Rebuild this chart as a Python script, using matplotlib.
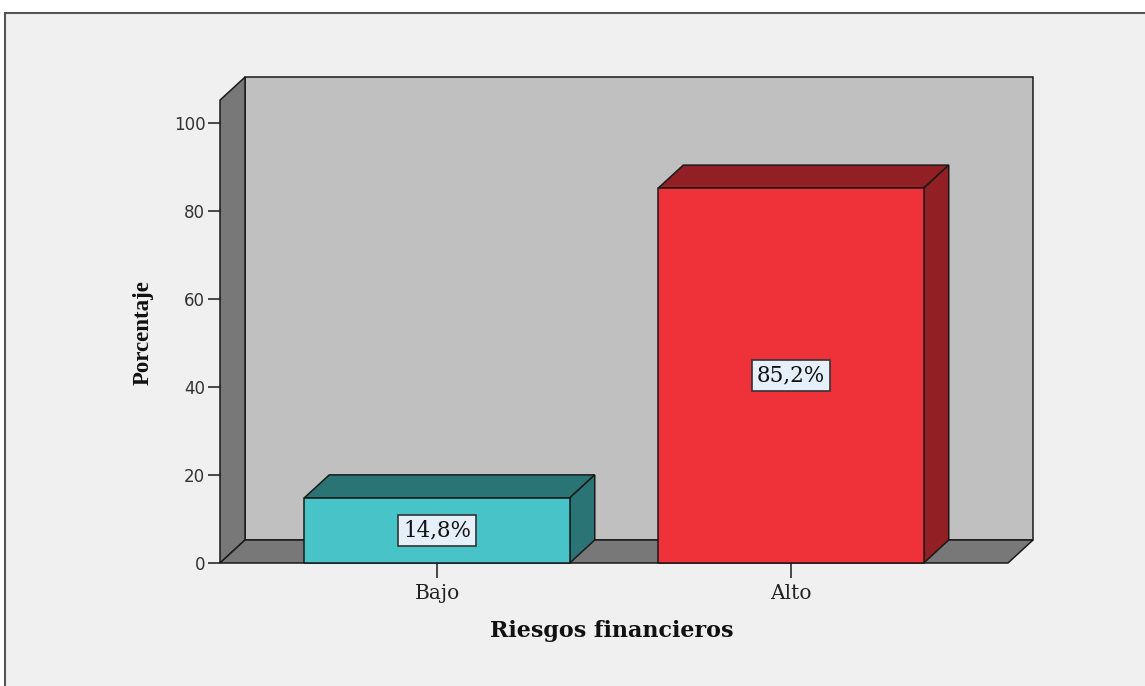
import matplotlib.pyplot as plt
from matplotlib.patches import Polygon, Rectangle

# data
categories = ['Bajo', 'Alto']
percentages = [14.8, 85.2]
value_labels = ['14,8%', '85,2%']
yticks = [0, 20, 40, 60, 80, 100]

front_colors = ['#48c3c7', '#ef323a']
dark_colors = ['#2b7475', '#921f23']

# 3D look (in data units)
bar_width = 0.75
DX = 25 / 354
DY = 23 / 4.4
wall_top = 105.2
x0, x1 = -0.613, 1.613
edge = '#1a1a1a'
lw = 1.1

plt.rcParams['font.family'] = ['DejaVu Serif']

fig = plt.figure(figsize=(11.45, 6.86), dpi=100)
fig.patch.set_facecolor('white')

# outer panel with frame
fig.patches.append(Rectangle((5 / 1145, -0.1), 2, 0.981 + 0.1, transform=fig.transFigure,
                             facecolor='#f0f0f0', edgecolor='#555555', lw=1.5, zorder=-1))

ax = fig.add_axes([220 / 1145, (686 - 563) / 686, 788 / 1145, 440 / 686])
ax.set_xlim(x0, x1)
ax.set_ylim(0, 100)
ax.patch.set_visible(False)
for s in ax.spines.values():
    s.set_visible(False)

def poly(pts, fc, z):
    ax.add_patch(Polygon(pts, closed=True, facecolor=fc, edgecolor=edge, lw=lw,
                         clip_on=False, zorder=z))

# back wall, left wall, floor
poly([(x0 + DX, DY), (x1 + DX, DY), (x1 + DX, wall_top + DY), (x0 + DX, wall_top + DY)], '#c0c0c0', 1)
poly([(x0, 0), (x0 + DX, DY), (x0 + DX, wall_top + DY), (x0, wall_top)], '#787878', 2)
poly([(x0, 0), (x1, 0), (x1 + DX, DY), (x0 + DX, DY)], '#787878', 2)

# bars
for i, (v, fc, dc, lab) in enumerate(zip(percentages, front_colors, dark_colors, value_labels)):
    l, r = i - bar_width / 2, i + bar_width / 2
    poly([(l, v), (r, v), (r + DX, v + DY), (l + DX, v + DY)], dc, 3)
    poly([(r, 0), (r + DX, DY), (r + DX, v + DY), (r, v)], dc, 3)
    poly([(l, 0), (r, 0), (r, v), (l, v)], fc, 4)
    ax.text(i, v / 2, lab, ha='center', va='center', fontsize=15.5, color='#111111', zorder=5,
            bbox=dict(boxstyle='square,pad=0.22', facecolor='#e6f0fa', edgecolor='#333333', lw=1.2))

ax.set_yticks(yticks)
ax.set_yticklabels([str(t) for t in yticks], family='DejaVu Sans')
ax.set_xticks(range(len(categories)))
ax.set_xticklabels(categories)
ax.tick_params(axis='y', direction='out', length=8.6, width=1.1, color=edge, pad=2,
               labelsize=12, labelcolor='#333333')
ax.tick_params(axis='x', direction='out', length=10.8, width=1.1, color=edge, pad=4,
               labelsize=14.5, labelcolor='#222222')

fig.text(143 / 1145, 1 - 333 / 686, 'Porcentaje', rotation=90, ha='center', va='center',
         family='Liberation Serif', fontsize=16.5, fontweight='bold', color='#111111')
fig.text(612 / 1145, 1 - 631 / 686, 'Riesgos financieros', ha='center', va='center',
         fontsize=16, fontweight='bold', color='#111111')

fig.savefig('out.png', dpi=100)
